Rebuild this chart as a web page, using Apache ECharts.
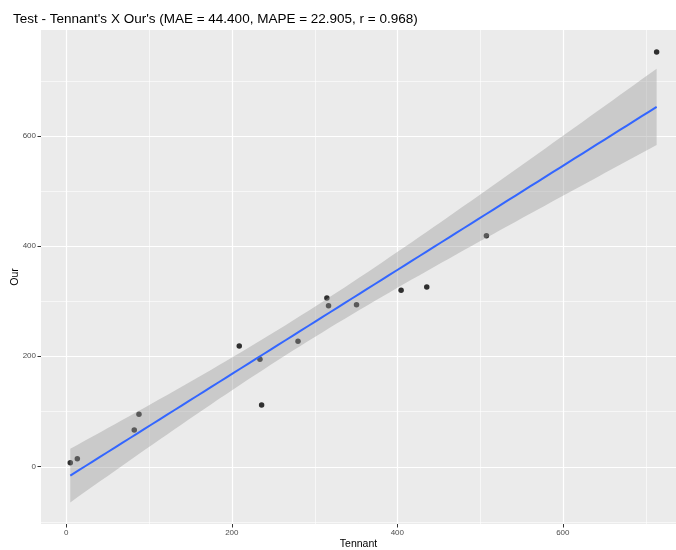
<!DOCTYPE html>
<html>
<head>
<meta charset="utf-8">
<script src="https://cdn.jsdelivr.net/npm/echarts@6/dist/echarts.min.js"></script>
<style>html,body{margin:0;padding:0;background:#fff}#c{width:676px;height:550px}</style>
</head>
<body>
<div id="c"></div>
<script>
const tennant = [4.8, 13.3, 82.1, 87.8, 209.0, 234.0, 236.0, 280.0, 314.9, 316.9, 350.7, 404.6, 435.6, 507.7, 713.4];
const our = [6.9, 14.2, 66.2, 94.7, 218.7, 194.5, 111.6, 227.2, 305.8, 291.8, 293.6, 319.8, 325.8, 418.9, 752.2];
const xTicks = [0, 200, 400, 600];
const yTicks = [0, 200, 400, 600];
const xMinor = [100, 300, 500, 700];
const yMinor = [-100, 100, 300, 500, 700];
const titleText = "Test - Tennant's X Our's (MAE = 44.400, MAPE = 22.905, r = 0.968)";
const xName = "Tennant";
const yName = "Our";

// linear fit + 95% confidence band (like geom_smooth(method = "lm"))
const n = tennant.length;
const mx = tennant.reduce((a, b) => a + b, 0) / n;
const my = our.reduce((a, b) => a + b, 0) / n;
let sxx = 0, sxy = 0;
for (let i = 0; i < n; i++) { sxx += (tennant[i] - mx) ** 2; sxy += (tennant[i] - mx) * (our[i] - my); }
const slope = sxy / sxx, icpt = my - slope * mx;
let sse = 0;
for (let i = 0; i < n; i++) sse += (our[i] - (icpt + slope * tennant[i])) ** 2;
const s = Math.sqrt(sse / (n - 2));
const tq = 2.160; // t(0.975, df = 13)
const xmin = Math.min(...tennant), xmax = Math.max(...tennant);
const bandX = [], fit = [], lo = [], hi = [];
for (let k = 0; k < 80; k++) {
  const x = xmin + (xmax - xmin) * k / 79;
  const f = icpt + slope * x;
  const se = s * Math.sqrt(1 / n + (x - mx) ** 2 / sxx);
  bandX.push(x); fit.push(f); lo.push(f - tq * se); hi.push(f + tq * se);
}

const gridData = [];
xTicks.forEach(v => gridData.push([v, 0, 1]));
xMinor.forEach(v => gridData.push([v, 0, 0]));
yTicks.forEach(v => gridData.push([v, 1, 1]));
yMinor.forEach(v => gridData.push([v, 1, 0]));

const FONT = "'Liberation Sans', Arial, sans-serif";
const chart = echarts.init(document.getElementById('c'), null, { renderer: 'canvas' });
chart.setOption({
  animation: false,
  backgroundColor: '#ffffff',
  title: {
    text: titleText, left: 8, top: 7,
    textStyle: { fontFamily: FONT, fontSize: 13.5, fontWeight: 'normal', color: '#000' }
  },
  grid: { left: 41, right: 0, top: 30, bottom: 26, show: true, backgroundColor: '#EBEBEB', borderWidth: 0,
          containLabel: false, outerBoundsMode: 'none' },
  xAxis: {
    type: 'value', min: -30.6, max: 736.8,
    name: xName, nameLocation: 'middle', nameGap: 14.5, nameMoveOverlap: false,
    nameTextStyle: { fontFamily: FONT, fontSize: 10.5, color: '#000' },
    axisLine: { show: false, onZero: false },
    axisTick: { show: true, customValues: xTicks, length: 3.5, lineStyle: { color: '#333', width: 1 } },
    axisLabel: { customValues: xTicks, color: '#4D4D4D', fontSize: 8, fontFamily: FONT, margin: 5 },
    splitLine: { show: false }
  },
  yAxis: {
    type: 'value', min: -104.3, max: 792.0,
    name: yName, nameLocation: 'middle', nameGap: 20, nameRotate: 90, nameMoveOverlap: false,
    nameTextStyle: { fontFamily: FONT, fontSize: 10.5, color: '#000' },
    axisLine: { show: false, onZero: false },
    axisTick: { show: true, customValues: yTicks, length: 3.5, lineStyle: { color: '#333', width: 1 } },
    axisLabel: { customValues: yTicks, color: '#4D4D4D', fontSize: 8, fontFamily: FONT, margin: 5 },
    splitLine: { show: false }
  },
  series: [
    {
      type: 'custom', z: 1, silent: true,
      data: gridData,
      renderItem: function (params, api) {
        const cs = params.coordSys;
        const v = api.value(0), dir = api.value(1), major = api.value(2);
        const w = major ? 1.2 : 0.6;
        let shape;
        if (dir === 0) {
          const p = Math.round(api.coord([v, 0])[0]) + 0.5;
          shape = { x1: p, y1: cs.y, x2: p, y2: cs.y + cs.height };
        } else {
          const p = Math.round(api.coord([0, v])[1]) + 0.5;
          shape = { x1: cs.x, y1: p, x2: cs.x + cs.width, y2: p };
        }
        return { type: 'line', shape: shape, style: { stroke: '#ffffff', lineWidth: w } };
      }
    },
    {
      type: 'scatter', z: 2, silent: true,
      data: tennant.map((x, i) => [x, our[i]]),
      symbol: 'circle', symbolSize: 5.5,
      itemStyle: { color: '#000000' }
    },
    {
      type: 'custom', z: 3, silent: true,
      data: [[bandX[0], fit[0]]],
      renderItem: function (params, api) {
        const pts = [];
        for (let k = 0; k < bandX.length; k++) pts.push(api.coord([bandX[k], hi[k]]));
        for (let k = bandX.length - 1; k >= 0; k--) pts.push(api.coord([bandX[k], lo[k]]));
        return { type: 'polygon', shape: { points: pts }, style: { fill: 'rgba(153,153,153,0.4)' } };
      }
    },
    {
      type: 'line', z: 4, silent: true,
      data: bandX.map((x, k) => [x, fit[k]]),
      showSymbol: false, symbol: 'none',
      lineStyle: { color: '#3366FF', width: 2 }
    }
  ]
});
</script>
</body>
</html>
